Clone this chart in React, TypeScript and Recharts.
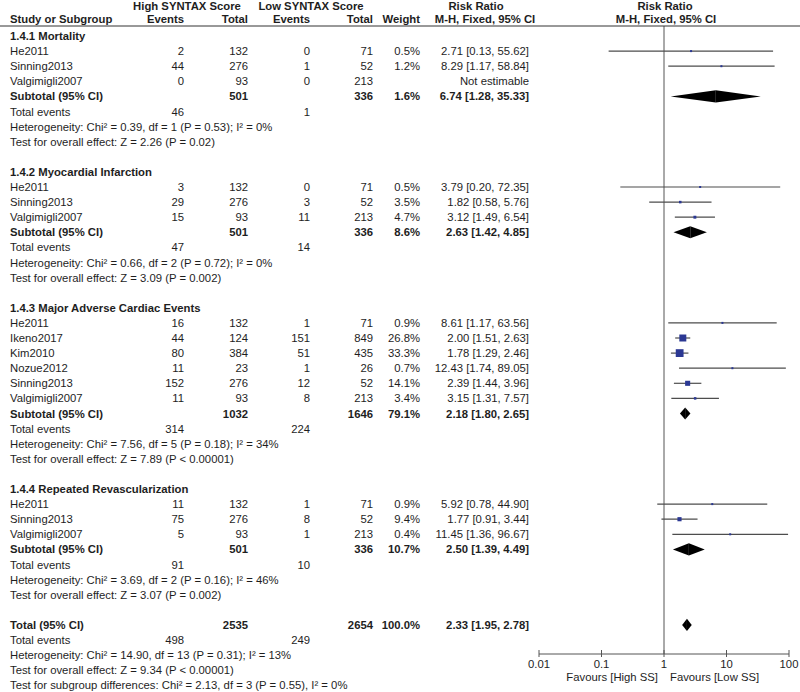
import React from "react";
import {
  ScatterChart,
  Scatter,
  XAxis,
  YAxis,
  ReferenceLine,
  ReferenceArea,
} from "recharts";

const font = '"Liberation Sans", Arial, Helvetica, sans-serif';

// study rows per subgroup
const mortality = [
  { study: "He2011", hiEv: 2, hiN: 132, loEv: 0, loN: 71, weight: 0.5, rr: 2.71, lo: 0.13, hi: 55.62 },
  { study: "Sinning2013", hiEv: 44, hiN: 276, loEv: 1, loN: 52, weight: 1.2, rr: 8.29, lo: 1.17, hi: 58.84 },
  { study: "Valgimigli2007", hiEv: 0, hiN: 93, loEv: 0, loN: 213, weight: null, rr: null, lo: null, hi: null },
];

const infarction = [
  { study: "He2011", hiEv: 3, hiN: 132, loEv: 0, loN: 71, weight: 0.5, rr: 3.79, lo: 0.2, hi: 72.35 },
  { study: "Sinning2013", hiEv: 29, hiN: 276, loEv: 3, loN: 52, weight: 3.5, rr: 1.82, lo: 0.58, hi: 5.76 },
  { study: "Valgimigli2007", hiEv: 15, hiN: 93, loEv: 11, loN: 213, weight: 4.7, rr: 3.12, lo: 1.49, hi: 6.54 },
];

const mace = [
  { study: "He2011", hiEv: 16, hiN: 132, loEv: 1, loN: 71, weight: 0.9, rr: 8.61, lo: 1.17, hi: 63.56 },
  { study: "Ikeno2017", hiEv: 44, hiN: 124, loEv: 151, loN: 849, weight: 26.8, rr: 2.0, lo: 1.51, hi: 2.63 },
  { study: "Kim2010", hiEv: 80, hiN: 384, loEv: 51, loN: 435, weight: 33.3, rr: 1.78, lo: 1.29, hi: 2.46 },
  { study: "Nozue2012", hiEv: 11, hiN: 23, loEv: 1, loN: 26, weight: 0.7, rr: 12.43, lo: 1.74, hi: 89.05 },
  { study: "Sinning2013", hiEv: 152, hiN: 276, loEv: 12, loN: 52, weight: 14.1, rr: 2.39, lo: 1.44, hi: 3.96 },
  { study: "Valgimigli2007", hiEv: 11, hiN: 93, loEv: 8, loN: 213, weight: 3.4, rr: 3.15, lo: 1.31, hi: 7.57 },
];

const revasc = [
  { study: "He2011", hiEv: 11, hiN: 132, loEv: 1, loN: 71, weight: 0.9, rr: 5.92, lo: 0.78, hi: 44.9 },
  { study: "Sinning2013", hiEv: 75, hiN: 276, loEv: 8, loN: 52, weight: 9.4, rr: 1.77, lo: 0.91, hi: 3.44 },
  { study: "Valgimigli2007", hiEv: 5, hiN: 93, loEv: 1, loN: 213, weight: 0.4, rr: 11.45, lo: 1.36, hi: 96.67 },
];

const subgroupTitles = [
  "1.4.1 Mortality",
  "1.4.2 Myocardial Infarction",
  "1.4.3 Major Adverse Cardiac Events",
  "1.4.4 Repeated Revascularization",
];
const subgroupStudies = [mortality, infarction, mace, revasc];

const subtotals = [
  { hiN: 501, loN: 336, weight: 1.6, rr: 6.74, lo: 1.28, hi: 35.33, hiEv: 46, loEv: 1 },
  { hiN: 501, loN: 336, weight: 8.6, rr: 2.63, lo: 1.42, hi: 4.85, hiEv: 47, loEv: 14 },
  { hiN: 1032, loN: 1646, weight: 79.1, rr: 2.18, lo: 1.8, hi: 2.65, hiEv: 314, loEv: 224 },
  { hiN: 501, loN: 336, weight: 10.7, rr: 2.5, lo: 1.39, hi: 4.49, hiEv: 91, loEv: 10 },
];

const heterogeneity = [
  "Chi² = 0.39, df = 1 (P = 0.53); I² = 0%",
  "Chi² = 0.66, df = 2 (P = 0.72); I² = 0%",
  "Chi² = 7.56, df = 5 (P = 0.18); I² = 34%",
  "Chi² = 3.69, df = 2 (P = 0.16); I² = 46%",
];
const overallEffect = [
  "Z = 2.26 (P = 0.02)",
  "Z = 3.09 (P = 0.002)",
  "Z = 7.89 (P < 0.00001)",
  "Z = 3.07 (P = 0.002)",
];

const total = { hiN: 2535, loN: 2654, weight: 100.0, rr: 2.33, lo: 1.95, hi: 2.78, hiEv: 498, loEv: 249 };
const totalHet = "Chi² = 14.90, df = 13 (P = 0.31); I² = 13%";
const totalEffect = "Z = 9.34 (P < 0.00001)";
const subgroupDiff = "Chi² = 2.13, df = 3 (P = 0.55), I² = 0%";

const xTicks = [0.01, 0.1, 1, 10, 100];

// layout
const W = 800;
const H = 692;
const plotLeft = 539;
const plotRight = 789;
const plotTop = 26;
const plotBottom = 654;
const firstRowY = 36;
const pitch = 15.1;
const fontSize = 11.3;
const col = { name: 10, hiEv: 184, hiN: 248, loEv: 310, loN: 373, weight: 420, rr: 529 };
const textColor = "#1e1e1e";

const fmtRR = (r: any) =>
  r.rr == null ? "Not estimable" : `${r.rr.toFixed(2)} [${r.lo.toFixed(2)}, ${r.hi.toFixed(2)}]`;
const fmtW = (w: number | null) => (w == null ? "" : `${w.toFixed(1)}%`);

// build the row list
type Row = { kind: string; text?: string; d?: any; row: number };
const rows: Row[] = [];
let r = 0;
subgroupTitles.forEach((title, g) => {
  rows.push({ kind: "title", text: title, row: r++ });
  subgroupStudies[g].forEach((s) => rows.push({ kind: "study", d: s, row: r++ }));
  rows.push({ kind: "subtotal", text: "Subtotal (95% CI)", d: subtotals[g], row: r++ });
  rows.push({ kind: "events", d: subtotals[g], row: r++ });
  rows.push({ kind: "text", text: "Heterogeneity: " + heterogeneity[g], row: r++ });
  rows.push({ kind: "text", text: "Test for overall effect: " + overallEffect[g], row: r++ });
  r++;
});
rows.push({ kind: "subtotal", text: "Total (95% CI)", d: total, row: r++ });
rows.push({ kind: "events", d: total, row: r++ });
rows.push({ kind: "text", text: "Heterogeneity: " + totalHet, row: r++ });
rows.push({ kind: "text", text: "Test for overall effect: " + totalEffect, row: r++ });
rows.push({ kind: "text", text: "Test for subgroup differences: " + subgroupDiff, row: r++ });

const studyPoints = rows
  .filter((x) => x.kind === "study" && x.d.rr != null)
  .map((x) => ({ rr: x.d.rr, lo: x.d.lo, hi: x.d.hi, weight: x.d.weight, row: x.row }));
const diamonds = rows
  .filter((x) => x.kind === "subtotal")
  .map((x) => ({ rr: x.d.rr, lo: x.d.lo, hi: x.d.hi, row: x.row }));

const yDomain = [(plotTop - firstRowY) / pitch, (plotBottom - firstRowY) / pitch];
const rowY = (i: number) => firstRowY + pitch * i;

const Square = (p: any) => {
  const s = Math.max(2, 1.35 * Math.sqrt(p.payload.weight));
  return <rect x={p.cx - s / 2} y={p.cy - s / 2} width={s} height={s} fill="#2b3893" />;
};

const LeftHalf = (p: any) => (
  <polygon
    points={`${p.x},${p.y + p.height / 2} ${p.x + p.width},${p.y} ${p.x + p.width},${p.y + p.height}`}
    fill="#000"
  />
);
const RightHalf = (p: any) => (
  <polygon
    points={`${p.x},${p.y} ${p.x + p.width},${p.y + p.height / 2} ${p.x},${p.y + p.height}`}
    fill="#000"
  />
);

const AxisTick = (p: any) => (
  <g>
    <line x1={p.x} x2={p.x} y1={p.y - 4} y2={p.y + 3} stroke="#555" />
    <text x={p.x} y={p.y + 14} textAnchor="middle" fontSize={fontSize} fill={textColor} fontFamily={font}>
      {String(p.payload.value)}
    </text>
  </g>
);

const T = ({ x, y, children, anchor = "start", bold = false }: any) => (
  <text
    x={x}
    y={y}
    textAnchor={anchor}
    fontSize={fontSize}
    fontWeight={bold ? "bold" : "normal"}
    fill={textColor}
    fontFamily={font}
  >
    {children}
  </text>
);

const TableText = () => (
  <svg
    width={W}
    height={H}
    style={{ position: "absolute", left: 0, top: 0, pointerEvents: "none" }}
  >
    {/* headers */}
    <T x={187} y={10} anchor="middle" bold>High SYNTAX Score</T>
    <T x={311} y={10} anchor="middle" bold>Low SYNTAX Score</T>
    <T x={476} y={10} anchor="middle" bold>Risk Ratio</T>
    <T x={665} y={10} anchor="middle" bold>Risk Ratio</T>
    <T x={col.name} y={23} bold>Study or Subgroup</T>
    <T x={col.hiEv} y={23} anchor="end" bold>Events</T>
    <T x={col.hiN} y={23} anchor="end" bold>Total</T>
    <T x={col.loEv} y={23} anchor="end" bold>Events</T>
    <T x={col.loN} y={23} anchor="end" bold>Total</T>
    <T x={col.weight} y={23} anchor="end" bold>Weight</T>
    <T x={485} y={23} anchor="middle" bold>M-H, Fixed, 95% CI</T>
    <T x={666} y={23} anchor="middle" bold>M-H, Fixed, 95% CI</T>
    <line x1={0} x2={W} y1={26} y2={26} stroke="#333" strokeWidth={1} />

    {rows.map((row, i) => {
      const y = rowY(row.row) + 4;
      if (row.kind === "title" || row.kind === "text")
        return (
          <T key={i} x={col.name} y={y} bold={row.kind === "title"}>
            {row.text}
          </T>
        );
      if (row.kind === "study")
        return (
          <g key={i}>
            <T x={col.name} y={y}>{row.d.study}</T>
            <T x={col.hiEv} y={y} anchor="end">{row.d.hiEv}</T>
            <T x={col.hiN} y={y} anchor="end">{row.d.hiN}</T>
            <T x={col.loEv} y={y} anchor="end">{row.d.loEv}</T>
            <T x={col.loN} y={y} anchor="end">{row.d.loN}</T>
            <T x={col.weight} y={y} anchor="end">{fmtW(row.d.weight)}</T>
            <T x={col.rr} y={y} anchor="end">{fmtRR(row.d)}</T>
          </g>
        );
      if (row.kind === "subtotal")
        return (
          <g key={i}>
            <T x={col.name} y={y} bold>{row.text}</T>
            <T x={col.hiN} y={y} anchor="end" bold>{row.d.hiN}</T>
            <T x={col.loN} y={y} anchor="end" bold>{row.d.loN}</T>
            <T x={col.weight} y={y} anchor="end" bold>{fmtW(row.d.weight)}</T>
            <T x={col.rr} y={y} anchor="end" bold>{fmtRR(row.d)}</T>
          </g>
        );
      if (row.kind === "events")
        return (
          <g key={i}>
            <T x={col.name} y={y}>Total events</T>
            <T x={col.hiEv} y={y} anchor="end">{row.d.hiEv}</T>
            <T x={col.loEv} y={y} anchor="end">{row.d.loEv}</T>
          </g>
        );
      return null;
    })}

    <T x={658} y={681} anchor="end">Favours [High SS]</T>
    <T x={670} y={681}>Favours [Low SS]</T>
  </svg>
);

export default function App() {
  return (
    <div
      style={{
        position: "absolute",
        left: 0,
        top: 0,
        width: W,
        height: H,
        background: "#fff",
      }}
    >
      <ScatterChart
        width={W}
        height={H}
        margin={{ top: plotTop, right: W - plotRight, bottom: 0, left: plotLeft }}
      >
        <XAxis
          type="number"
          dataKey="rr"
          scale="log"
          domain={[0.01, 100]}
          allowDataOverflow
          ticks={xTicks}
          interval={0}
          height={H - plotBottom}
          axisLine={{ stroke: "#555" }}
          tickLine={false}
          tickSize={0}
          tickMargin={0}
          tick={<AxisTick />}
        />
        <YAxis
          type="number"
          dataKey="row"
          domain={yDomain}
          allowDataOverflow
          reversed
          hide
          width={0}
        />
        <ReferenceLine x={1} stroke="#555" />
        {studyPoints.map((p, i) => (
          <ReferenceLine
            key={"ci" + i}
            segment={[
              { x: p.lo, y: p.row },
              { x: p.hi, y: p.row },
            ]}
            stroke="#4d4d4d"
            strokeWidth={1.2}
          />
        ))}
        {diamonds.map((d, i) => (
          <ReferenceArea
            key={"dl" + i}
            x1={d.lo}
            x2={d.rr}
            y1={d.row - 0.4}
            y2={d.row + 0.4}
            shape={<LeftHalf />}
          />
        ))}
        {diamonds.map((d, i) => (
          <ReferenceArea
            key={"dr" + i}
            x1={d.rr}
            x2={d.hi}
            y1={d.row - 0.4}
            y2={d.row + 0.4}
            shape={<RightHalf />}
          />
        ))}
        <Scatter data={studyPoints} shape={<Square />} isAnimationActive={false} />
      </ScatterChart>
      <TableText />
    </div>
  );
}
